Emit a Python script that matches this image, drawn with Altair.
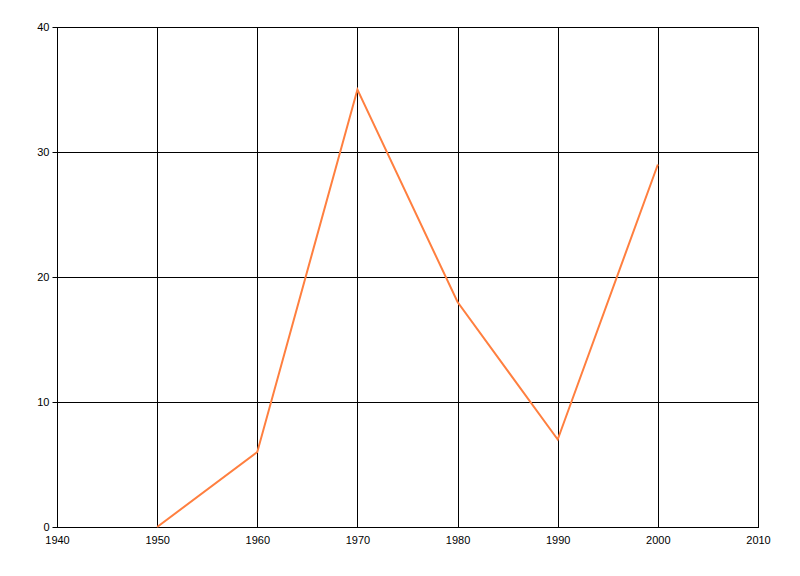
import altair as alt
import pandas as pd

years = [1950, 1960, 1970, 1980, 1990, 2000]
values = [0, 6, 35, 18, 7, 29]

df = pd.DataFrame({"year": years, "value": values})

x_ticks = [1940, 1950, 1960, 1970, 1980, 1990, 2000, 2010]
y_ticks = [0, 10, 20, 30, 40]

chart = alt.Chart(df).mark_line(color="#FF7F3F", strokeWidth=2).encode(
    x=alt.X("year:Q", scale=alt.Scale(domain=[1940, 2010], nice=False, zero=False),
            axis=alt.Axis(values=x_ticks, format="d", title=None, tickSize=0,
                          labelPadding=7, labelFlush=False, labelOverlap=False,
                          gridColor="#000000", gridOpacity=1,
                          domainColor="#000000", labelColor="#000000",
                          labelFont="Liberation Sans", labelFontSize=11)),
    y=alt.Y("value:Q", scale=alt.Scale(domain=[0, 40], nice=False),
            axis=alt.Axis(values=y_ticks, title=None, tickSize=5, tickColor="#000000",
                          labelPadding=3, labelFlush=False, labelOverlap=False,
                          gridColor="#000000", gridOpacity=1,
                          domainColor="#000000", labelColor="#000000",
                          labelFont="Liberation Sans", labelFontSize=11)),
).properties(
    width=701, height=500,
    autosize=alt.AutoSizeParams(type="none"),
    padding={"left": 49, "top": 19, "right": 26, "bottom": 33},
).configure_view(stroke="#000000", strokeWidth=1).configure_axis(
    domainWidth=1, gridWidth=1, labelFontWeight="normal"
)

chart.save("out.html", embed_options={"renderer": "svg", "actions": False})
